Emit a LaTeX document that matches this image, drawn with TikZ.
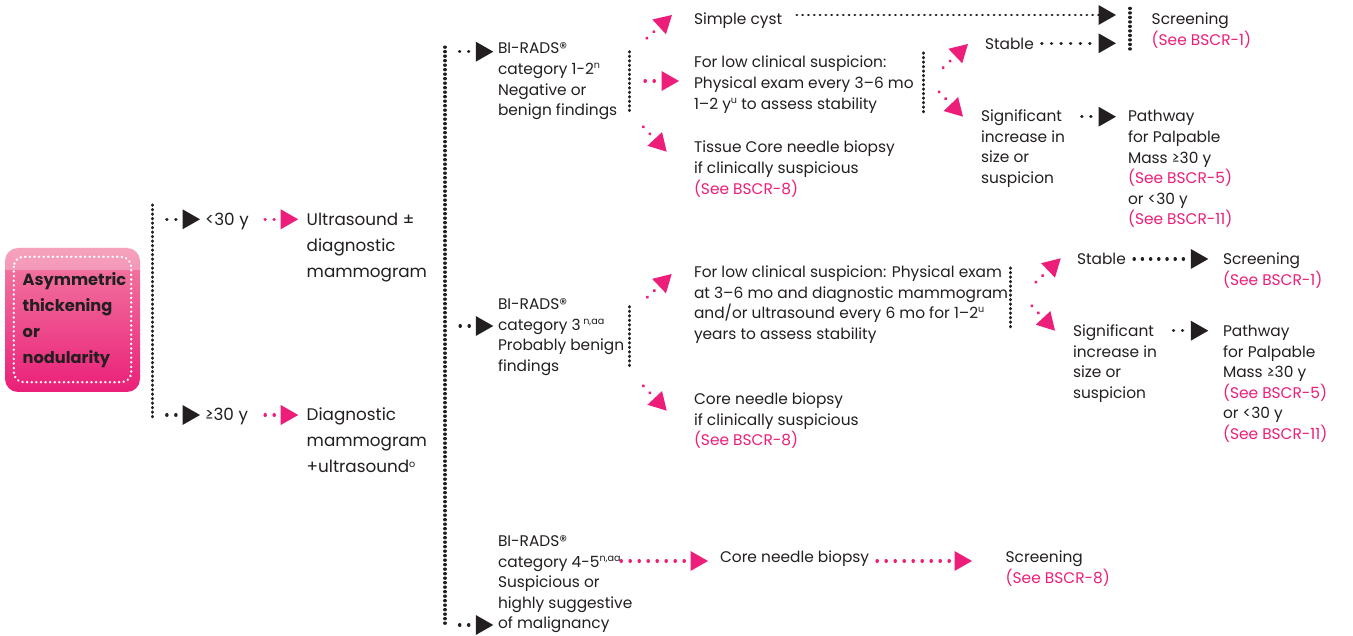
\documentclass[tikz,border=0pt]{standalone}
\usepackage{fontspec}
\setmainfont{Poppins}
\usetikzlibrary{arrows.meta,calc}

\definecolor{ink}{HTML}{231F20}
\definecolor{brand}{HTML}{EC1E79}
\definecolor{boxmid}{HTML}{F27FA4}
\definecolor{boxbot}{HTML}{EA1F78}

% small raised note markers
\newcommand\supr[1]{\raisebox{5.8pt}{\fontsize{9.6}{10}\selectfont #1}}
\newcommand\seeref[1]{\textcolor{brand}{(See #1)}}

\tikzset{
  x=1pt, y=-1pt,
  textbase/.style={anchor=north west, inner sep=0pt, outer sep=0pt, align=left, text=ink},
  txt/.style={textbase, font=\fontsize{15.4}{20.6}\selectfont, yshift=9pt},
  txtL/.style={textbase, font=\fontsize{16.8}{26}\selectfont, yshift=12.3pt},
  vbar/.style={draw=ink, line width=3.1pt, line cap=round, dash pattern=on 0.3pt off 4.2pt},
  tipgap/.style={shorten >=#1},
  blk/.style={draw=ink, line width=3.1pt, line cap=round, dash pattern=on 0.4pt off 8.6pt,
    -{Triangle[length=17.5pt,width=20pt,line width=0pt,fill=ink]}},
  pnk/.style={draw=brand, line width=3.1pt, line cap=round, dash pattern=on 0.4pt off 8.6pt,
    -{Triangle[length=17.5pt,width=20pt,line width=0pt,fill=brand]}},
  diag/.style={pnk, dash pattern=on 0.4pt off 9.1pt},
}

\begin{document}
\begin{tikzpicture}
\useasboundingbox (0,0) rectangle (1353,636);
\fill[white] (0,0) rectangle (1353,636);

% ---- starting box ----
\node[minimum width=135pt, minimum height=144pt, rounded corners=13pt, inner sep=0pt,
      top color=boxmid, bottom color=boxbot] (box) at (72.5,320) {};
\begin{scope}
  \clip[rounded corners=13pt] (box.north west) rectangle (box.south east);
  \fill[white, opacity=0.28] (box.north west) rectangle ($(box.north east)+(0,22)$);
\end{scope}
\node[align=left, text=ink, inner sep=0pt, font=\fontsize{16.2}{25.8}\selectfont\bfseries]
  (boxtext) at ($(box.center)+(2,0)$) {Asymmetric\\thickening\\or\\nodularity};
\draw[white, line width=2.4pt, line cap=round, dash pattern=on 0.3pt off 4.3pt, rounded corners=10pt]
  ($(box.north west)+(9,9)$) rectangle ($(box.south east)+(-9,-10)$);

% ---- age split ----
\coordinate (v1t) at (152.3,205);
\coordinate (v1b) at (152.3,420);
\draw[vbar] (v1t) -- (v1b);

\node[txtL] (lt30) at (205,219.3) {\strut<30 y};
\node[txtL] (ge30) at (205,415) {\strut≥30 y};
\node[txtL] (us) at (306.7,219.3) {\strut Ultrasound ±\\diagnostic\\mammogram};
\node[txtL] (dm) at (306.7,415) {\strut Diagnostic\\mammogram\\+ultrasound\supr{o}};

\coordinate (s-lt) at (166.7,219.3);
\coordinate (s-ge) at (166.7,415);
\draw[blk, tipgap=5pt] (s-lt) -- (s-lt -| lt30.west);
\draw[blk, tipgap=5pt] (s-ge) -- (s-ge -| ge30.west);
\coordinate (s-us) at (265,219.3);
\coordinate (s-dm) at (265,415);
\draw[pnk, tipgap=8.5pt] (s-us) -- (s-us -| us.west);
\draw[pnk, tipgap=8.5pt] (s-dm) -- (s-dm -| dm.west);

% ---- imaging results ----
\coordinate (v2t) at (445,47);
\coordinate (v2b) at (445,626);
\draw[vbar] (v2t) -- (v2b);

\node[txt] (b12) at (498,48.5) {\strut BI-RADS®\\category 1-2\supr{n}\\Negative or\\benign findings};
\node[txt] (b3) at (498,304) {\strut BI-RADS®\\category 3\,\supr{n,aa}\\Probably benign\\findings};
\node[txt] (b45) at (498,541) {\strut BI-RADS®\\category 4-5\supr{n,aa}\\Suspicious or\\highly suggestive\\of malignancy};

\coordinate (s-b12) at (459.5,51.7);
\coordinate (s-b3) at (460,326);
\coordinate (s-b45) at (459.5,625);
\draw[blk, tipgap=4.7pt] (s-b12) -- (s-b12 -| b12.west);
\draw[blk, tipgap=4.7pt] (s-b3) -- (s-b3 -| b3.west);
\draw[blk, tipgap=4.7pt] (s-b45) -- (s-b45 -| b45.west);

% ---- category 1-2 branch ----
\coordinate (v3t) at (629.3,51.7);
\coordinate (v3b) at (629.3,111.7);
\draw[vbar] (v3t) -- (v3b);

\node[txt] (cyst) at (694,19) {\strut Simple cyst};
\node[txt] (low1) at (694,62.5) {\strut For low clinical suspicion:\\Physical exam every 3–6 mo\\1–2 y\supr{u} to assess stability};
\node[txt] (tissue) at (694,147.5) {\strut Tissue Core needle biopsy\\if clinically suspicious\\\seeref{BSCR-8}};

\coordinate (d-cyst) at (646.7,38.3);
\coordinate (s-low1) at (645,81);
\coordinate (d-tis) at (643.3,126.7);
\draw[diag] (d-cyst) -- ($(cyst.north west)+(-22,5)$);
\draw[pnk, tipgap=15pt] (s-low1) -- (s-low1 -| low1.west);
\draw[diag] (d-tis) -- ($(tissue.north west)+(-27.3,13.2)$);

\coordinate (v4t) at (923.3,53);
\coordinate (v4b) at (923.3,113);
\draw[vbar] (v4t) -- (v4b);

\node[txt] (stable1) at (985,44) {\strut Stable};
\node[txt] (sig1) at (981,116) {\strut Significant\\increase in\\size or\\suspicion};
\coordinate (d-st1) at (943,67.7);
\coordinate (d-sg1) at (939,91.7);
\draw[diag] (d-st1) -- ($(stable1.north west)+(-17,9)$);
\draw[diag] (d-sg1) -- ($(sig1.north west)+(-18,9.7)$);

\coordinate (v5t) at (1130,8.3);
\coordinate (v5b) at (1130,50.7);
\draw[vbar] (v5t) -- (v5b);
\node[txt] (scr1) at (1151.7,19.5) {\strut Screening\\\seeref{BSCR-1}};
\node[txt] (path1) at (1128,116.5) {\strut Pathway\\for Palpable\\Mass ≥30 y\\\seeref{BSCR-5}\\or <30 y\\\seeref{BSCR-11}};

\coordinate (s-cyst) at (796.7,15);
\coordinate (s-st1) at (1041.7,43.3);
\coordinate (s-sg1) at (1081.7,116.7);
\draw[blk, dash pattern=on 0.3pt off 5.5pt, line width=2.8pt, tipgap=14pt] (s-cyst) -- (s-cyst -| v5t);
\draw[blk, dash pattern=on 0.4pt off 9.2pt, tipgap=14pt] (s-st1) -- (s-st1 -| v5t);
\draw[blk, tipgap=12pt] (s-sg1) -- (s-sg1 -| path1.west);

% ---- category 3 branch ----
\coordinate (v6t) at (629.3,306.7);
\coordinate (v6b) at (629.3,368.3);
\draw[vbar] (v6t) -- (v6b);

\node[txt] (low2) at (694,272) {\strut For low clinical suspicion: Physical exam\\at 3–6 mo and diagnostic mammogram\\and/or ultrasound every 6 mo for 1–2\supr{u}\\years to assess stability};
\node[txt] (core2) at (694,399) {\strut Core needle biopsy\\if clinically suspicious\\\seeref{BSCR-8}};
\coordinate (d-low2) at (647.3,297.3);
\coordinate (d-core2) at (643.3,385.7);
\draw[diag] (d-low2) -- ($(low2.north west)+(-22.3,11)$);
\draw[diag] (d-core2) -- ($(core2.north west)+(-27.3,20.7)$);

\coordinate (v7t) at (1010.7,268);
\coordinate (v7b) at (1010.7,329);
\draw[vbar] (v7t) -- (v7b);

\node[txt] (stable2) at (1077,259) {\strut Stable};
\node[txt] (sig2) at (1073,331) {\strut Significant\\increase in\\size or\\suspicion};
\coordinate (d-st2) at (1035.7,282.3);
\coordinate (d-sg2) at (1031.7,305.7);
\draw[diag] (d-st2) -- ($(stable2.north west)+(-16.3,8.3)$);
\draw[diag] (d-sg2) -- ($(sig2.north west)+(-18,8.7)$);

\node[txt] (scr2) at (1223,259) {\strut Screening\\\seeref{BSCR-1}};
\node[txt] (path2) at (1223,331) {\strut Pathway\\for Palpable\\Mass ≥30 y\\\seeref{BSCR-5}\\or <30 y\\\seeref{BSCR-11}};
\coordinate (s-st2) at (1134,259);
\coordinate (s-sg2) at (1173.3,330.7);
\draw[blk, dash pattern=on 0.4pt off 7.8pt, tipgap=14.7pt] (s-st2) -- (s-st2 -| scr2.west);
\draw[blk, tipgap=14.7pt] (s-sg2) -- (s-sg2 -| path2.west);

% ---- category 4-5 branch ----
\node[txt] (core45) at (720,557) {\strut Core needle biopsy};
\node[txt] (scr45) at (1005.7,557) {\strut Screening\\\seeref{BSCR-8}};
\coordinate (s-b45r) at (621,561);
\coordinate (s-core45) at (877,561);
\draw[pnk, tipgap=12pt] (s-b45r) -- (s-b45r -| core45.west);
\draw[pnk, tipgap=33.7pt] (s-core45) -- (s-core45 -| scr45.west);
\end{tikzpicture}
\end{document}
